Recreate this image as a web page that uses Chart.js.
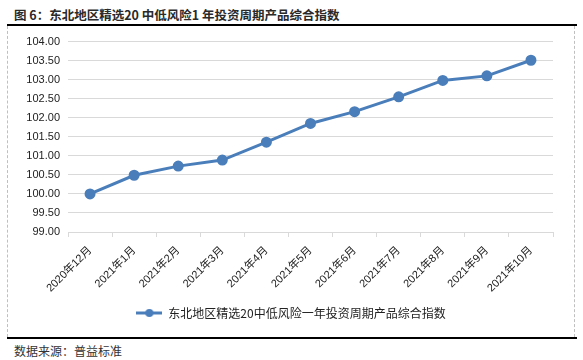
<!DOCTYPE html>
<html>
<head>
<meta charset="utf-8">
<script src="https://cdn.jsdelivr.net/npm/chart.js@4.4.1/dist/chart.umd.min.js"></script>
<style>
  html, body { margin: 0; padding: 0; background: #fff; }
  #page { position: relative; width: 583px; height: 360px; overflow: hidden; }
  #title {
    position: absolute; left: 14px; top: 5px;
    font: bold 12.5px "Noto Sans CJK SC", sans-serif; color: #2a2a2a; white-space: nowrap;
  }
  #topRule { position: absolute; left: 7px; top: 24px; width: 570px; height: 2px; background: #000; }
  #botRule { position: absolute; left: 7px; top: 337px; width: 570px; height: 2px; background: #000; }
  #frame {
    position: absolute; left: 7px; top: 26px; width: 568px; height: 311px;
    border-left: 1px dashed #bfbfbf; border-right: 1px dashed #bfbfbf; box-sizing: border-box;
  }
  #source {
    position: absolute; left: 14px; top: 342px;
    font: 12px "Noto Sans CJK SC", sans-serif; color: #333; white-space: nowrap;
  }
  #wrap { position: absolute; left: 8px; top: 27px; width: 566px; height: 310px; }
</style>
</head>
<body>
<div id="page">
  <div id="title">图 6：东北地区精选20 中低风险1 年投资周期产品综合指数</div>
  <div id="topRule"></div>
  <div id="frame"></div>
  <div id="wrap"><canvas id="chart"></canvas></div>
  <div id="botRule"></div>
  <div id="source">数据来源：普益标准</div>
</div>
<script>
// ---- data ----
const months = ['2020年12月', '2021年1月', '2021年2月', '2021年3月', '2021年4月', '2021年5月',
                '2021年6月', '2021年7月', '2021年8月', '2021年9月', '2021年10月'];
const indexValues = [100.00, 100.49, 100.73, 100.89, 101.36, 101.85, 102.16, 102.55, 102.98, 103.10, 103.51];
const seriesName = '东北地区精选20中低风险一年投资周期产品综合指数';
const yMin = 99, yMax = 104, yStep = 0.5;

const BLUE = '#4a7ebb';
const GRID = '#d9d9d9';
const LATIN = '"Liberation Sans", "Noto Sans CJK SC", sans-serif';

// legend marker: short line with a dot in the middle
function legendMarker() {
  const c = document.createElement('canvas');
  c.width = 26; c.height = 10;
  const g = c.getContext('2d');
  g.strokeStyle = BLUE; g.lineWidth = 3;
  g.beginPath(); g.moveTo(0, 5); g.lineTo(26, 5); g.stroke();
  g.fillStyle = BLUE;
  g.beginPath(); g.arc(13, 5, 4, 0, Math.PI * 2); g.fill();
  return c;
}
const marker = legendMarker();

// y labels are clipped to the axis box; widen the box after layout so they fit
const unclipY = {
  id: 'unclipY',
  afterLayout(chart) { chart.scales.y.left = 0; },
};

new Chart(document.getElementById('chart'), {
  type: 'line',
  data: {
    labels: months,
    datasets: [{
      label: seriesName,
      data: indexValues,
      borderColor: BLUE,
      backgroundColor: BLUE,
      borderWidth: 3,
      pointRadius: 4,
      pointHoverRadius: 4,
      pointBackgroundColor: BLUE,
      pointBorderColor: BLUE,
      tension: 0,
    }],
  },
  plugins: [unclipY],
  options: {
    responsive: true,
    maintainAspectRatio: false,
    animation: false,
    // symmetric side padding keeps the legend centred on the frame
    layout: { padding: { top: 13, right: 21, bottom: 8, left: 21 } },
    plugins: {
      tooltip: { enabled: false },
      legend: {
        position: 'bottom',
        labels: {
          usePointStyle: true,
          pointStyleWidth: 26,
          padding: 10,
          color: '#222',
          font: { family: '"Noto Sans CJK SC", sans-serif', size: 12 },
          generateLabels: chart => [{
            text: seriesName,
            pointStyle: marker,
            fillStyle: BLUE,
            strokeStyle: BLUE,
            lineWidth: 0,
            hidden: false,
            datasetIndex: 0,
            fontColor: '#222',
          }],
        },
      },
    },
    scales: {
      x: {
        offset: true,
        grid: {
          offset: true,
          drawOnChartArea: false,
          drawTicks: true,
          tickLength: 5,
          color: GRID,
        },
        border: { display: true, color: GRID, width: 1 },
        ticks: {
          color: '#222',
          font: { family: LATIN, size: 11 },
          maxRotation: 45,
          minRotation: 45,
          padding: 7,
          autoSkip: false,
        },
        afterFit: s => { s.height = 65; },
      },
      y: {
        min: yMin,
        max: yMax,
        grid: { color: GRID, drawTicks: false, lineWidth: 1 },
        border: { display: false },
        ticks: {
          stepSize: yStep,
          color: '#222',
          padding: 8,
          font: { family: LATIN, size: 11 },
          callback: v => v.toFixed(2),
        },
        afterFit: s => { s.width = 39; },
      },
    },
  },
});
</script>
</body>
</html>
